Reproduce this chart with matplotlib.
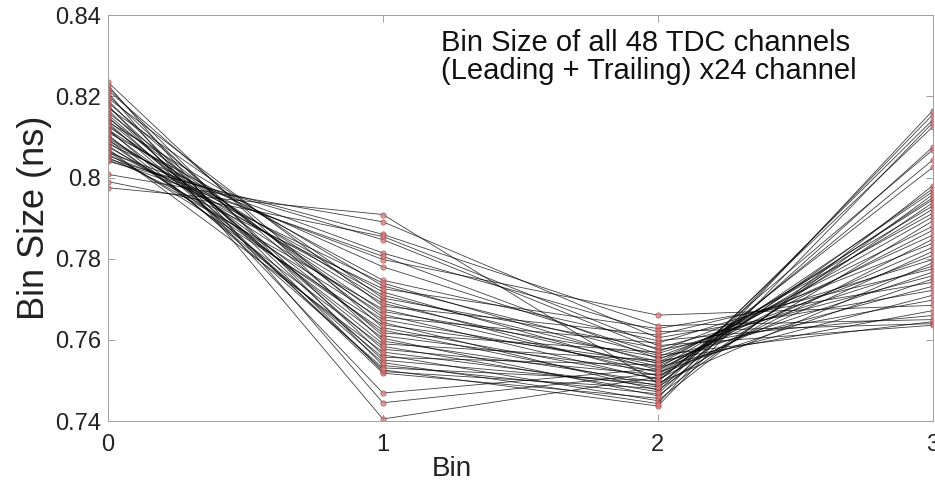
import matplotlib
matplotlib.use("Agg")
import matplotlib.pyplot as plt

plt.rcParams['font.family'] = ['Liberation Sans', 'DejaVu Sans']

bins = [0, 1, 2, 3]

bin0 = [0.8235, 0.8228, 0.8222, 0.8215, 0.8210, 0.8203, 0.8196, 0.8190, 0.8185, 0.8178,
        0.8175, 0.8172, 0.8167, 0.8160, 0.8155, 0.8150, 0.8146, 0.8140, 0.8137, 0.8135,
        0.8130, 0.8126, 0.8120, 0.8118, 0.8116, 0.8111, 0.8106, 0.8101, 0.8097, 0.8094,
        0.8092, 0.8088, 0.8083, 0.8079, 0.8075, 0.8071, 0.8066, 0.8064, 0.8062, 0.8058,
        0.8054, 0.8050, 0.8046, 0.8043, 0.8040, 0.8008, 0.7990, 0.7975]

bin1 = [0.7597, 0.7445, 0.7537, 0.7630, 0.7405, 0.7563, 0.7683, 0.7522, 0.7610, 0.7469,
        0.7550, 0.7703, 0.7518, 0.7643, 0.7577, 0.7526, 0.7656, 0.7590, 0.7733, 0.7544,
        0.7617, 0.7670, 0.7531, 0.7697, 0.7604, 0.7747, 0.7557, 0.7663, 0.7690, 0.7584,
        0.7718, 0.7624, 0.7780, 0.7650, 0.7710, 0.7570, 0.7740, 0.7637, 0.7814, 0.7676,
        0.7798, 0.7726, 0.7847, 0.7806, 0.7860, 0.7891, 0.7855, 0.7909]

bin2 = [0.7496, 0.7517, 0.7467, 0.7505, 0.7508, 0.7450, 0.7612, 0.7480, 0.7523, 0.7529,
        0.7490, 0.7580, 0.7456, 0.7476, 0.7514, 0.7437, 0.7592, 0.7550, 0.7562, 0.7443,
        0.7570, 0.7558, 0.7499, 0.7511, 0.7462, 0.7598, 0.7538, 0.7502, 0.7535, 0.7472,
        0.7526, 0.7487, 0.7566, 0.7532, 0.7547, 0.7484, 0.7541, 0.7544, 0.7620, 0.7520,
        0.7661, 0.7628, 0.7575, 0.7554, 0.7635, 0.7605, 0.7586, 0.7493]

bin3 = [0.8068, 0.7945, 0.8075, 0.7950, 0.7965, 0.7980, 0.7775, 0.8125, 0.7903, 0.7930,
        0.7972, 0.7758, 0.8155, 0.7938, 0.7922, 0.8135, 0.7798, 0.7858, 0.7645, 0.8165,
        0.7838, 0.7808, 0.8025, 0.7818, 0.7958, 0.7660, 0.7912, 0.7848, 0.7828, 0.8142,
        0.7870, 0.8043, 0.7782, 0.7710, 0.7672, 0.7893, 0.7767, 0.7880, 0.7640, 0.7750,
        0.7685, 0.7742, 0.7698, 0.7732, 0.7650, 0.7722, 0.7636, 0.7790]

yticks = [0.74, 0.76, 0.78, 0.80, 0.82, 0.84]
ytick_labels = ["0.74", "0.76", "0.78", "0.8", "0.82", "0.84"]
xticks = [0, 1, 2, 3]
annotation = "Bin Size of all 48 TDC channels\n(Leading + Trailing) x24 channel"

fig = plt.figure(figsize=(9.35, 4.93), dpi=100)
ax = fig.add_axes([0.1155, 0.146, 0.882, 0.823])

for a, b, c, d in zip(bin0, bin1, bin2, bin3):
    ax.plot(bins, [a, b, c, d], color='black', lw=0.6, alpha=0.75,
            marker='o', markersize=3.8, markerfacecolor='#e08080',
            markeredgecolor='#a04848', markeredgewidth=0.6)

ax.set_xlim(0, 3)
ax.set_ylim(0.74, 0.84)
ax.set_xticks(xticks)
ax.set_xticklabels([str(t) for t in xticks])
ax.set_yticks(yticks)
ax.set_yticklabels(ytick_labels)
ax.tick_params(direction='in', length=5, width=0.6, colors='#909090',
               labelcolor='#222222', labelsize=17, top=True, right=True, pad=5)
ax.tick_params(axis='x', pad=9)
for s in ax.spines.values():
    s.set_color('#a0a0a0')
    s.set_linewidth(0.7)

ax.set_xlabel("Bin", fontsize=20, color='#222222')
ax.xaxis.set_label_coords(0.417, -0.085)
ax.set_ylabel("Bin Size (ns)", fontsize=26, color='#222222', labelpad=2)

ax.text(0.404, 0.965, annotation, transform=ax.transAxes, ha='left', va='top',
        fontsize=21, color='#111111', linespacing=1.0)

fig.savefig("out.png", dpi=100)
